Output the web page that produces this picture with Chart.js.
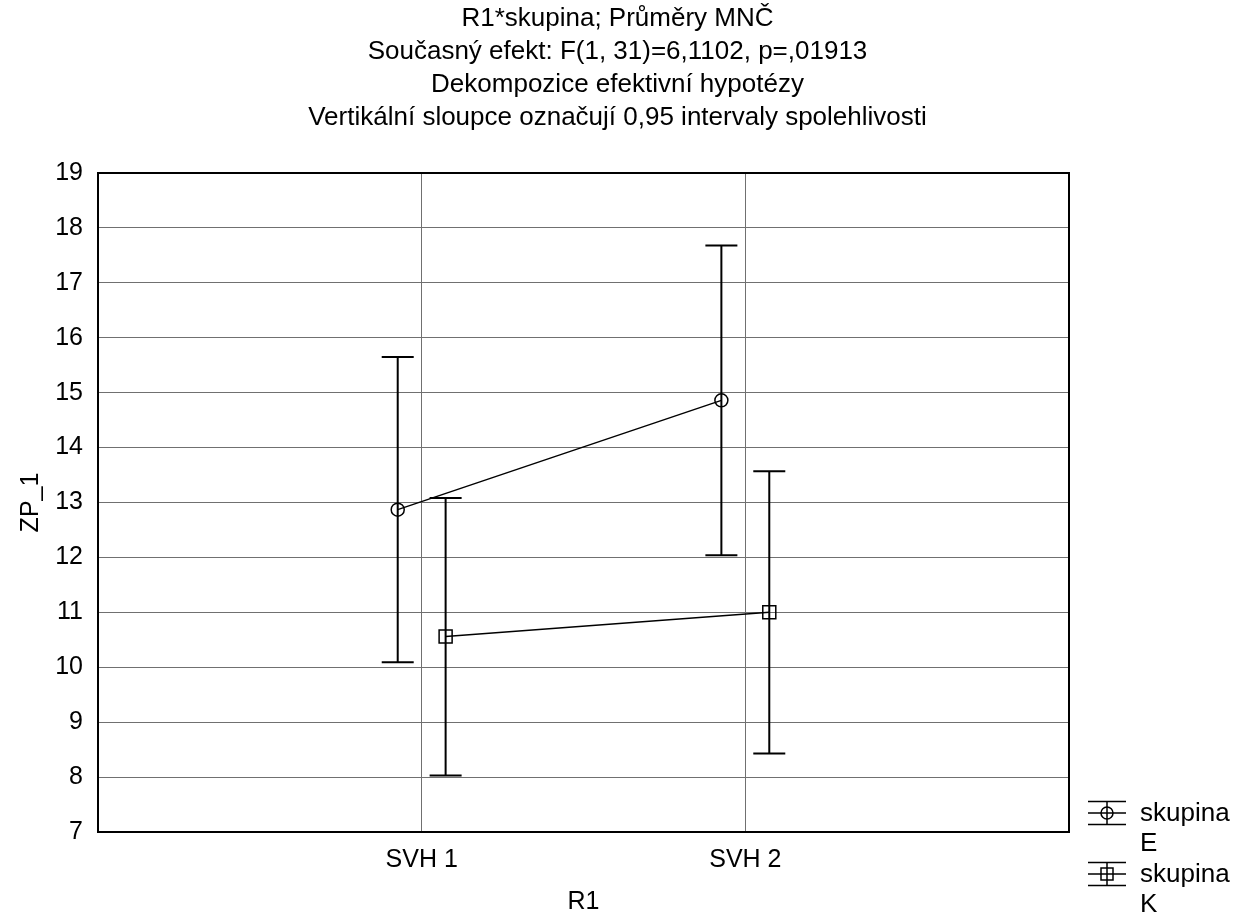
<!DOCTYPE html>
<html>
<head>
<meta charset="utf-8">
<script src="https://cdn.jsdelivr.net/npm/chart.js@4/dist/chart.umd.min.js"></script>
<style>
  html, body { margin: 0; padding: 0; background: #fff; }
  #wrap { width: 1235px; height: 915px; }
</style>
</head>
<body>
<div id="wrap"><canvas id="meansChart" width="1235" height="915"></canvas></div>
<script>
// categories on the x axis (placed at 1 and 2 on a 0..3 scale)
const categories = ["SVH 1", "SVH 2"];
const groupLabels = ["skupina E", "skupina K"];

// LS means and 0.95 confidence limits
const meanE = [12.87, 14.86];
const lowE = [10.09, 12.04];
const highE = [15.65, 17.68];

const meanK = [10.56, 11.0];
const lowK = [8.03, 8.43];
const highK = [13.08, 13.57];

const yTicks = [7, 8, 9, 10, 11, 12, 13, 14, 15, 16, 17, 18, 19];
const dodge = 0.074; // horizontal shift of each group around the category

const titleLines = [
  "R1*skupina; Průměry MNČ",
  "Současný efekt: F(1, 31)=6,1102, p=,01913",
  "Dekompozice efektivní hypotézy",
  "Vertikální sloupce označují 0,95 intervaly spolehlivosti"
];

const FONT = "'Liberation Sans', Arial, sans-serif";

function toPoints(means, lows, highs, shift) {
  return means.map((m, i) => ({ x: i + 1 + shift, y: m, lo: lows[i], hi: highs[i] }));
}

const errorBars = {
  id: "errorBars",
  afterDatasetsDraw(chart) {
    const { ctx, scales } = chart;
    ctx.save();
    ctx.strokeStyle = "#000";
    ctx.lineWidth = 2;
    chart.data.datasets.forEach((ds) => {
      ds.data.forEach((p) => {
        const x = scales.x.getPixelForValue(p.x);
        const yl = scales.y.getPixelForValue(p.lo);
        const yh = scales.y.getPixelForValue(p.hi);
        ctx.beginPath();
        ctx.moveTo(x, yl);
        ctx.lineTo(x, yh);
        ctx.moveTo(x - 16, yl);
        ctx.lineTo(x + 16, yl);
        ctx.moveTo(x - 16, yh);
        ctx.lineTo(x + 16, yh);
        ctx.stroke();
      });
    });
    ctx.restore();
  }
};

const frame = {
  id: "frame",
  beforeDatasetsDraw(chart) {
    const { ctx, chartArea: a } = chart;
    ctx.save();
    ctx.strokeStyle = "#000";
    ctx.lineWidth = 2;
    ctx.strokeRect(a.left, a.top, a.right - a.left, a.bottom - a.top);
    ctx.restore();
  }
};

const sideLegend = {
  id: "sideLegend",
  afterDraw(chart) {
    const { ctx } = chart;
    ctx.save();
    ctx.font = "26px " + FONT;
    ctx.fillStyle = "#000";
    ctx.strokeStyle = "#000";
    ctx.textBaseline = "middle";
    ctx.textAlign = "left";
    chart.data.datasets.forEach((ds, i) => {
      const cy = 813 + i * 61;
      const cx = 1107;
      ctx.lineWidth = 1.5;
      ctx.beginPath();
      [-11.5, 0, 11.5].forEach((d) => {
        ctx.moveTo(cx - 19, cy + d);
        ctx.lineTo(cx + 19, cy + d);
      });
      ctx.moveTo(cx, cy - 11.5);
      ctx.lineTo(cx, cy + 11.5);
      ctx.stroke();
      ctx.beginPath();
      if (ds.pointStyle === "circle") {
        ctx.arc(cx, cy, 6, 0, Math.PI * 2);
      } else {
        ctx.rect(cx - 6, cy - 6, 12, 12);
      }
      ctx.stroke();
      const words = ds.label.split(" ");
      ctx.fillText(words[0], 1140, cy + 1);
      ctx.fillText(words[1], 1140, cy + 31);
    });
    ctx.restore();
  }
};

new Chart(document.getElementById("meansChart"), {
  type: "line",
  data: {
    datasets: [
      {
        label: groupLabels[0],
        data: toPoints(meanE, lowE, highE, -dodge),
        borderColor: "#000",
        borderWidth: 1.5,
        pointStyle: "circle",
        pointRadius: 6.5,
        pointBorderWidth: 1.5,
        pointBorderColor: "#000",
        pointBackgroundColor: "rgba(0,0,0,0)",
        fill: false
      },
      {
        label: groupLabels[1],
        data: toPoints(meanK, lowK, highK, dodge),
        borderColor: "#000",
        borderWidth: 1.5,
        pointStyle: "rect",
        pointRadius: 9.2,
        pointBorderWidth: 1.5,
        pointBorderColor: "#000",
        pointBackgroundColor: "rgba(0,0,0,0)",
        fill: false
      }
    ]
  },
  options: {
    responsive: false,
    animation: false,
    parsing: { xAxisKey: "x", yAxisKey: "y" },
    layout: { padding: 0 },
    plugins: {
      legend: { display: false },
      tooltip: { enabled: false },
      title: {
        display: true,
        text: titleLines,
        color: "#000",
        font: { family: FONT, size: 26, weight: "normal", lineHeight: 33 / 26 },
        padding: { top: 2, bottom: 39 }
      }
    },
    scales: {
      x: {
        type: "linear",
        min: 0,
        max: 3,
        afterBuildTicks(scale) {
          scale.ticks = categories.map((_, i) => ({ value: i + 1 }));
        },
        afterFit(scale) { scale.height = 83; },
        ticks: {
          color: "#000",
          font: { family: FONT, size: 25 },
          padding: 13,
          maxRotation: 0,
          callback: (v) => categories[v - 1] || ""
        },
        grid: { color: "#707070", lineWidth: 1, drawTicks: false },
        border: { color: "#000", width: 2 },
        title: {
          display: true,
          text: "R1",
          color: "#000",
          font: { family: FONT, size: 25, lineHeight: 1 },
          padding: { top: 0, bottom: 0 }
        }
      },
      y: {
        min: 7,
        max: 19,
        afterBuildTicks(scale) {
          scale.ticks = yTicks.map((v) => ({ value: v }));
        },
        afterFit(scale) { scale.width = 98; },
        ticks: {
          color: "#000",
          font: { family: FONT, size: 25 },
          padding: 15
        },
        grid: { color: "#707070", lineWidth: 1, drawTicks: false },
        border: { color: "#000", width: 2 },
        title: {
          display: true,
          text: "ZP_1",
          color: "#000",
          font: { family: FONT, size: 25 },
          padding: { top: 16, bottom: 0 }
        }
      },
      // empty strip on the right that holds the legend
      side: {
        position: "right",
        min: 0,
        max: 1,
        afterFit(scale) { scale.width = 166; },
        ticks: { display: false },
        grid: { display: false },
        border: { display: false }
      }
    }
  },
  plugins: [frame, errorBars, sideLegend]
});
</script>
</body>
</html>
